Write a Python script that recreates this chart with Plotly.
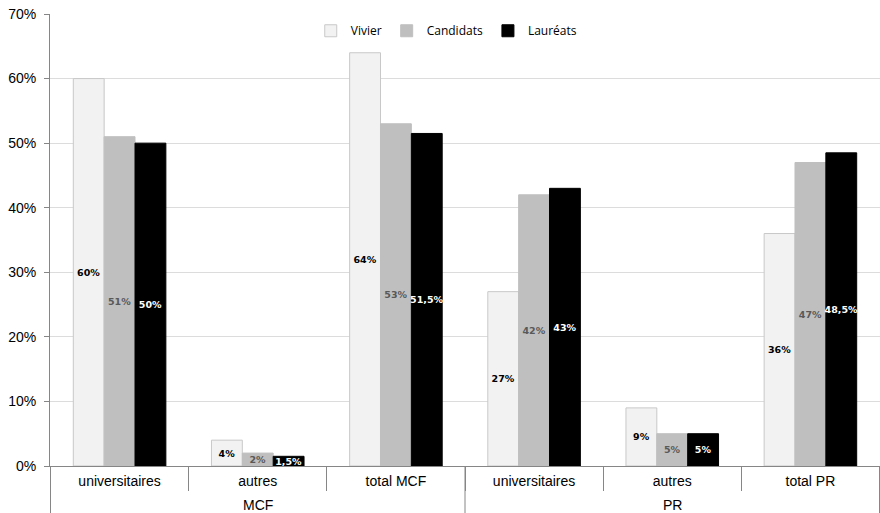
import plotly.graph_objects as go

# Corps (outer level) and population (inner level)
corps = ["MCF", "MCF", "MCF", "PR", "PR", "PR"]
populations = ["universitaires", "autres", "total MCF", "universitaires", "autres", "total PR"]

# Shares in percent
vivier = [60, 4, 64, 27, 9, 36]
candidats = [51, 2, 53, 42, 5, 47]
laureats = [50, 1.5, 51.5, 43, 5, 48.5]

series = [
    ("Vivier", vivier, "#F2F2F2", "#C8C8C8", "#000000"),
    ("Candidats", candidats, "#BFBFBF", "#BFBFBF", "#595959"),
    ("Lauréats", laureats, "#000000", "#000000", "#FFFFFF"),
]


def fmt(v):
    s = f"{v:g}".replace(".", ",")
    return s + "%"


# unique category keys; the axis shows only the population name
keys = [f"{c} / {p}" for c, p in zip(corps, populations)]

fig = go.Figure()
for name, vals, fill, edge, txtcol in series:
    fig.add_trace(go.Bar(
        name=name,
        x=keys,
        y=vals,
        text=[fmt(v) for v in vals],
        textposition="inside",
        insidetextanchor="middle",
        textangle=0,
        textfont=dict(family="DejaVu Sans", size=9.5, color=txtcol, weight="bold"),
        marker=dict(color=fill, line=dict(color=edge, width=1)),
        cliponaxis=False,
    ))

# outer-level labels and full-height dividers between corps groups
PLOT_H = 513 - 14 - 47
groups = []
for i, c in enumerate(corps):
    if not groups or groups[-1][0] != c:
        groups.append([c, i, i])
    else:
        groups[-1][2] = i

divider_y = -60 / PLOT_H
shapes = []
annotations = []
bounds = sorted({g[1] - 0.5 for g in groups} | {g[2] + 0.5 for g in groups})
for b in bounds:
    shapes.append(dict(type="line", xref="x", yref="paper", x0=b, x1=b,
                       y0=0, y1=divider_y, line=dict(color="#868686", width=1)))
for c, i0, i1 in groups:
    annotations.append(dict(
        text=c, xref="x", yref="paper", x=(i0 + i1) / 2, y=0,
        yshift=-39, yanchor="middle", showarrow=False,
        font=dict(family="Liberation Sans", size=14, color="#000000"),
    ))

fig.update_layout(
    width=880, height=513,
    margin=dict(l=50, r=0, t=14, b=47),
    paper_bgcolor="white", plot_bgcolor="white",
    barmode="group", bargap=0.33, bargroupgap=0,
    uniformtext=dict(minsize=9.5, mode="show"),
    font=dict(family="Liberation Sans", size=14, color="#000000"),
    legend=dict(
        orientation="h", x=0.478, xanchor="center", y=0.995, yanchor="top",
        font=dict(family="Open Sans", size=12, color="#000000"),
        bgcolor="rgba(0,0,0,0)", itemwidth=30, tracegroupgap=0,
    ),
    showlegend=True,
    shapes=shapes,
    annotations=annotations,
)

fig.update_yaxes(
    range=[0, 70], dtick=10, ticksuffix="%",
    showgrid=True, gridcolor="#DCDCDC", gridwidth=1,
    showline=True, linecolor="#868686", linewidth=1,
    ticks="outside", ticklen=5, tickcolor="#868686",
    ticklabelstandoff=5,
    tickfont=dict(family="Liberation Sans", size=14),
    zeroline=False,
)

fig.update_xaxes(
    type="category",
    tickmode="array", tickvals=keys, ticktext=populations,
    showline=True, linecolor="#868686", linewidth=1,
    ticks="outside", tickson="boundaries", ticklen=24, tickcolor="#868686",
    ticklabelstandoff=2,
    tickfont=dict(family="Liberation Sans", size=14),
)

fig.write_html("out.html")
